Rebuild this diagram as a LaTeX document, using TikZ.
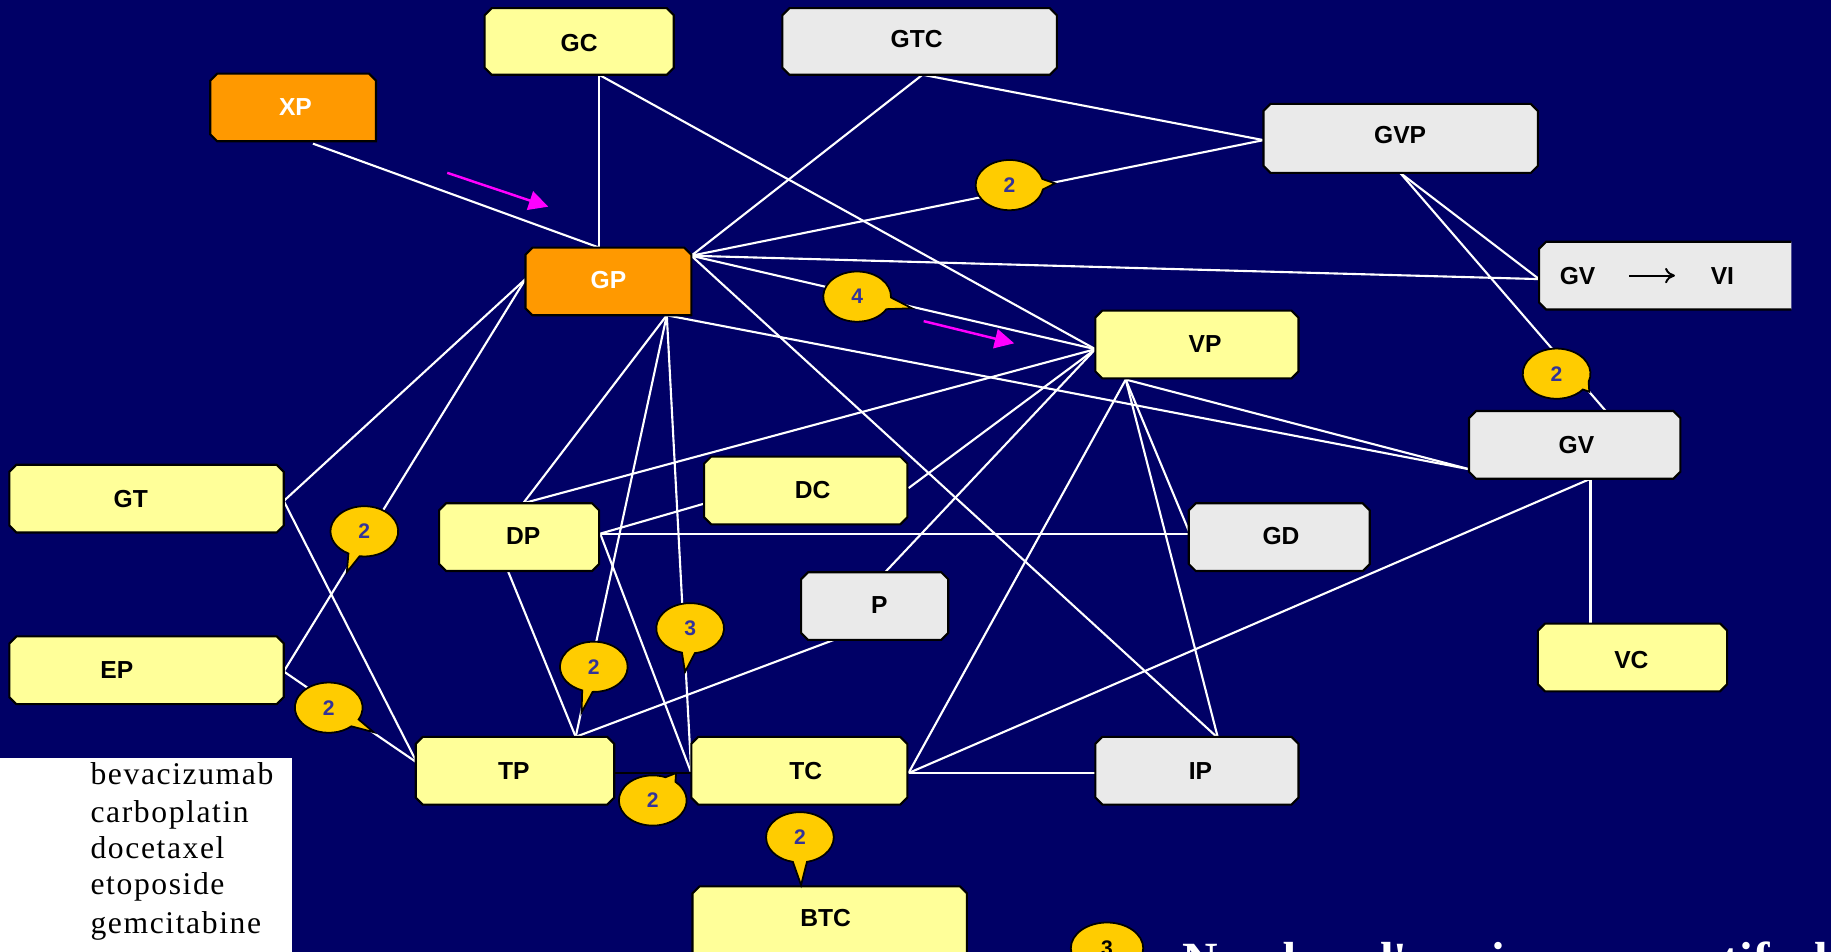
\documentclass[tikz,border=0pt]{standalone}
\usepackage{fontspec}
\setmainfont{Liberation Sans}
\newfontfamily\legfont{Liberation Serif}[LetterSpace=5]
\newfontfamily\notefont{Liberation Serif}
\usetikzlibrary{arrows.meta}
\definecolor{bg}{RGB}{0,0,102}
\definecolor{boxyellow}{RGB}{255,255,153}
\definecolor{boxgray}{RGB}{234,234,234}
\definecolor{boxorange}{RGB}{255,153,0}
\definecolor{callfill}{RGB}{255,204,0}
\definecolor{calltext}{RGB}{51,51,153}
\definecolor{arrowmag}{RGB}{255,0,255}
% chamfered box: name, x1, y1, x2, y2, fill colour
\newcommand\cbox[6]{%
  \filldraw[boxframe, fill=#6] (#2+6,#3) -- (#4-6,#3) -- (#4,#3+6) -- (#4,#5-6) -- (#4-6,#5) -- (#2+6,#5) -- (#2,#5-6) -- (#2,#3+6) -- cycle;
  \node[boxarea, minimum width={(#4-#2)*0.011677cm}, minimum height={(#5-#3)*0.011677cm}] (#1) at ({(#2+#4)/2},{(#3+#5)/2}) {};
}
% callout: name, cx, cy, tail angle, half width angle, tip x, tip y, text
\newcommand\mycallout[8]{%
  \path[callshape] (#2,#3) ++(#4+#5:0.3386cm and 0.251cm) arc[start angle=#4+#5, end angle=#4-#5+360, x radius=0.3386cm, y radius=0.251cm] -- (#6,#7) -- cycle;
  \node[calltxt] (#1) at (#2,#3) {#8};
}
\begin{document}
\begin{tikzpicture}[x=0.011677cm, y=-0.011677cm,
  link/.style={draw=white, line width=0.6pt},
  boxframe/.style={draw=black, line width=0.6pt},
  boxarea/.style={inner sep=0pt, outer sep=0pt, draw=none},
  boxtext/.style={font=\bfseries\fontsize{7}{8}\selectfont, text=black, inner sep=0pt},
  calltxt/.style={font=\bfseries\fontsize{6}{7}\selectfont, text=calltext, inner sep=0pt},
  callshape/.style={fill=callfill, draw=black, line width=0.5pt},
  magarrow/.style={draw=arrowmag, line width=0.7pt, -{Triangle[length=5.5pt,width=5.5pt]}},
  legtext/.style={font=\legfont\fontsize{9}{10}\selectfont, text=black, inner sep=0pt, anchor=base west}
]
\useasboundingbox (0,0) rectangle (1568,815);
\clip (0,0) rectangle (1568,815);
\fill[bg] (0,0) rectangle (1568,815);

% ports
\coordinate (XPb) at (268,123);
\coordinate (GCb) at (513,64);
\coordinate (GTCb) at (790,64);
\coordinate (GPt) at (513,212);
\coordinate (GPr) at (592,219);
\coordinate (GPb) at (571,270);
\coordinate (GPl) at (450,239);
\coordinate (GVPl) at (1082,120);
\coordinate (GVPb) at (1199,148);
\coordinate (GVVIl) at (1318,239);
\coordinate (VPl) at (938,299);
\coordinate (VPb) at (964,325);
\coordinate (GVl) at (1259,402);
\coordinate (GVt) at (1376,353);
\coordinate (GVb) at (1362,410);
\coordinate (GTr) at (243,429);
\coordinate (EPr) at (243,575);
\coordinate (DPt) at (448,431);
\coordinate (DPr) at (514,457);
\coordinate (DPb) at (435,489);
\coordinate (DCl) at (604,431);
\coordinate (DCr) at (778,418);
\coordinate (GDl) at (1019,457);
\coordinate (Pb) at (714,548);
\coordinate (Pt) at (758,490);
\coordinate (TPt) at (493,631);
\coordinate (TPl) at (357,653);
\coordinate (TPr) at (525,662);
\coordinate (TCl) at (592,662);
\coordinate (TCr) at (778,662);
\coordinate (IPt) at (1043,632);
\coordinate (IPl) at (938,662);
\coordinate (VCt) at (1362,534);

% connectors
\draw[link] (XPb) -- (GPt);
\draw[link] (GCb) -- (GPt);
\draw[link] (GCb) -- (VPl);
\draw[link] (GTCb) -- (GPr);
\draw[link] (GTCb) -- (GVPl);
\draw[link] (GPr) -- (GVPl);
\draw[link] (GPr) -- (GVVIl);
\draw[link] (GPr) -- (VPl);
\draw[link] (GPr) -- (IPt);
\draw[link] (GVPb) -- (GVVIl);
\draw[link] (GVPb) -- (GVt);
\draw[link] (GPb) -- (DPt);
\draw[link] (GPb) -- (TPt);
\draw[link] (GPb) -- (TCl);
\draw[link] (GPb) -- (GVl);
\draw[link] (GPl) -- (GTr);
\draw[link] (GPl) -- (EPr);
\draw[link] (GTr) -- (TPl);
\draw[link] (EPr) -- (TPl);
\draw[link] (DPt) -- (VPl);
\draw[link] (DPr) -- (DCl);
\draw[link] (DPr) -- (GDl);
\draw[link] (DPr) -- (TCl);
\draw[link] (DPb) -- (TPt);
\draw[link] (Pb) -- (TPt);
\draw[draw=black, line width=0.8pt] (TPr) -- (TCl);
\draw[link] (TCr) -- (IPl);
\draw[link] (TCr) -- (VPb);
\draw[link] (TCr) -- (GVb);
\draw[link] (GVb) -- (VCt);
\draw[link] (VPl) -- (DCr);
\draw[link] (VPl) -- (Pt);
\draw[link] (VPb) -- (GDl);
\draw[link] (VPb) -- (IPt);
\draw[link] (VPb) -- (GVl);

% magenta arrows
\coordinate (m1s) at (383,148);
\coordinate (m1e) at (469.5,177);
\coordinate (m2s) at (791,275);
\coordinate (m2e) at (868.5,294);
\draw[magarrow] (m1s) -- (m1e);
\draw[magarrow] (m2s) -- (m2e);

% boxes
\cbox{GC}{415}{7}{577}{64}{boxyellow}
\cbox{GTC}{670}{7}{905}{64}{boxgray}
\cbox{GVP}{1082}{89}{1317}{148}{boxgray}
\cbox{VP}{938}{266}{1112}{324}{boxyellow}
\cbox{GT}{8}{398}{243}{456}{boxyellow}
\cbox{DC}{603}{391}{777}{449}{boxyellow}
\cbox{DP}{376}{431}{513}{489}{boxyellow}
\cbox{GD}{1018}{431}{1173}{489}{boxgray}
\cbox{GV}{1258}{352}{1439}{410}{boxgray}
\cbox{P}{686}{490}{812}{548}{boxgray}
\cbox{EP}{8}{545}{243}{603}{boxyellow}
\cbox{VC}{1317}{534}{1479}{592}{boxyellow}
\cbox{TP}{356}{631}{526}{689}{boxyellow}
\cbox{TC}{592}{631}{777}{689}{boxyellow}
\cbox{IP}{938}{631}{1112}{689}{boxgray}
\cbox{BTC}{593}{759}{828}{850}{boxyellow}
% boxes with a square lower right corner
\filldraw[boxframe, fill=boxorange] (186,63) -- (316,63) -- (322,69) -- (322,121) -- (186,121) -- (180,115) -- (180,69) -- cycle;
\node[boxarea, minimum width={142*0.011677cm}, minimum height={58*0.011677cm}] (XP) at (251,92) {};
\filldraw[boxframe, fill=boxorange] (456,212) -- (586,212) -- (592,218) -- (592,270) -- (456,270) -- (450,264) -- (450,218) -- cycle;
\node[boxarea, minimum width={142*0.011677cm}, minimum height={58*0.011677cm}] (GP) at (521,241) {};
% box cut at its right side
\fill[boxgray] (1324,207) -- (1534,207) -- (1534,265) -- (1324,265) -- (1318,259) -- (1318,213) -- cycle;
\draw[boxframe] (1534,207) -- (1324,207) -- (1318,213) -- (1318,259) -- (1324,265) -- (1534,265);
\node[boxarea, minimum width={216*0.011677cm}, minimum height={58*0.011677cm}] (GVVI) at (1426,236) {};

% box texts
\node[boxtext] (GC-t) at (496,37) {GC};
\node[boxtext] (GTC-t) at (785,33) {GTC};
\node[boxtext, text=white] (XP-t) at (253,92) {XP};
\node[boxtext] (GVP-t) at (1199,116) {GVP};
\node[boxtext, text=white] (GP-t) at (521,240) {GP};
\node[boxtext] (GVVI-a) at (1351,236) {GV};
\node[boxtext] (GVVI-b) at (1475,236) {VI};
\draw[line width=0.55pt, -{To[length=2.8pt,width=4.4pt]}, shorten <=9.4pt, shorten >=10pt] (GVVI-a) -- (GVVI-b);
\node[boxtext] (VP-t) at (1032,295) {VP};
\node[boxtext] (GT-t) at (112,427) {GT};
\node[boxtext] (DC-t) at (696,420) {DC};
\node[boxtext] (DP-t) at (448,459) {DP};
\node[boxtext] (GD-t) at (1097,459) {GD};
\node[boxtext] (GV-t) at (1350,381) {GV};
\node[boxtext] (P-t) at (753,518) {P};
\node[boxtext] (EP-t) at (100,574) {EP};
\node[boxtext] (VC-t) at (1397,565) {VC};
\node[boxtext] (TP-t) at (440,660) {TP};
\node[boxtext] (TC-t) at (690,660) {TC};
\node[boxtext] (IP-t) at (1028,660) {IP};
\node[boxtext] (BTC-t) at (707,786) {BTC};

% callouts
\mycallout{c1}{864.5}{158.5}{2}{12}{903.5}{157}{2}
\mycallout{c2}{734}{254}{-16}{14}{781}{264}{4}
\mycallout{c3}{1333}{320}{-29}{10}{1361}{335.5}{2}
\mycallout{c4}{312}{455}{-108}{10}{297}{490}{2}
\mycallout{c5}{281.5}{606}{-38}{10}{320}{627}{2}
\mycallout{c6}{508.5}{571}{-101}{9}{498}{610}{2}
\mycallout{c7}{591}{538}{-93}{11}{586.6}{575.5}{3}
\mycallout{c8}{559}{685.5}{58}{10}{579}{662}{2}
\mycallout{c9}{685}{717}{-90}{12}{686}{758}{2}

% legend
\fill[white] (0,649) rectangle (250,815);
\node[legtext] (l1) at (77,672) {bevacizumab};
\node[legtext] (l2) at (77,704) {carboplatin};
\node[legtext] (l3) at (77,735) {docetaxel};
\node[legtext] (l4) at (77,766) {etoposide};
\node[legtext] (l5) at (77,799) {gemcitabine};

\path[callshape] (948,812) ellipse [x radius=0.362cm, y radius=0.257cm];
\node[calltxt, text=black] (c10) at (948,812) {3};
\node[anchor=north west, inner sep=0pt, text=white, font=\notefont\bfseries\fontsize{14}{16}\selectfont] (note) at (1012,806) {Nombre d'essais comparatifs directs};
\end{tikzpicture}
\end{document}
